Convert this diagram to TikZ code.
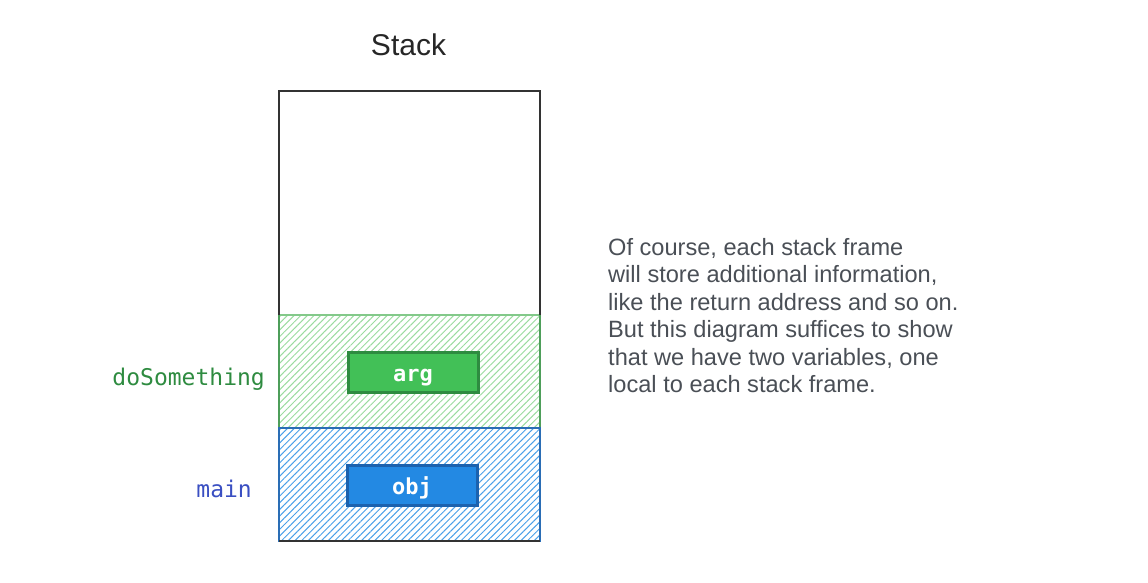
\documentclass[tikz,border=0pt]{standalone}
\usepackage{fontspec}
\setmainfont{Liberation Sans}
\setmonofont{DejaVu Sans Mono}
\usetikzlibrary{patterns.meta}
\definecolor{stackline}{HTML}{333333}
\definecolor{grhatch}{HTML}{9ADB9F}
\definecolor{grline}{HTML}{4E9E5A}
\definecolor{grfill}{HTML}{42C057}
\definecolor{grdark}{HTML}{2E8B40}
\definecolor{bluhatch}{HTML}{4AA0E8}
\definecolor{bluline}{HTML}{2A6DB5}
\definecolor{blufill}{HTML}{2389E3}
\definecolor{bludark}{HTML}{1C62AE}
\definecolor{mainlbl}{HTML}{3A4FC2}
\definecolor{txtgray}{HTML}{4A4F56}
\tikzset{
  varbox/.style={draw, line width=3pt, minimum width=130pt, minimum height=40pt, inner sep=0pt,
    text height=18pt, text depth=0pt,
    text=white, font=\ttfamily\bfseries\fontsize{22}{26}\selectfont},
  framelbl/.style={anchor=base east, inner sep=0pt, font=\ttfamily\fontsize{23}{26}\selectfont},
}
\begin{document}
\begin{tikzpicture}[x=1pt,y=-1pt]
\useasboundingbox (0,0) rectangle (1148,583);
% title
\node (title) [font=\fontsize{30}{32}\selectfont, text=black!85] at (408.5,45) {Stack};
% frames
\fill[pattern={Lines[angle=45,distance=4.7pt,line width=1pt]}, pattern color=grhatch] (279,315) rectangle (540,428);
\fill[pattern={Lines[angle=45,distance=4.7pt,line width=1pt]}, pattern color=bluhatch] (279,428) rectangle (540,541);
\draw[grline, line width=2pt] (279,315) rectangle (540,428);
\draw[grhatch!70!grline, line width=2pt] (280,315) -- (539,315);
\draw[bluline, line width=2pt] (279,428) rectangle (540,541);
\draw[stackline, line width=1.5pt] (279,315) -- (279,91) -- (540,91) -- (540,315);
\draw[stackline, line width=1.5pt] (279,541) -- (540,541);
\node (stack) [minimum width=261pt, minimum height=450pt, inner sep=0pt] at (409.5,316) {};
% variables
\node (arg) [varbox, fill=grfill, draw=grdark] at (413,372) {arg};
\node (obj) [varbox, fill=blufill, draw=bludark] at (412,485) {obj};
% frame labels
\node (dolbl) [framelbl, text=grdark] at (265,385) {doSomething};
\node (mainlbl) [framelbl, text=mainlbl] at (252,497) {main};
% explanation
\node (note) [anchor=north west, inner sep=0pt, align=left, text=txtgray,
  font=\fontsize{23.6}{27.5}\selectfont] at (608,238)
  {Of course, each stack frame\\
   will store additional information,\\
   like the return address and so on.\\
   But this diagram suffices to show\\
   that we have two variables, one\\
   local to each stack frame.};
\end{tikzpicture}
\end{document}
